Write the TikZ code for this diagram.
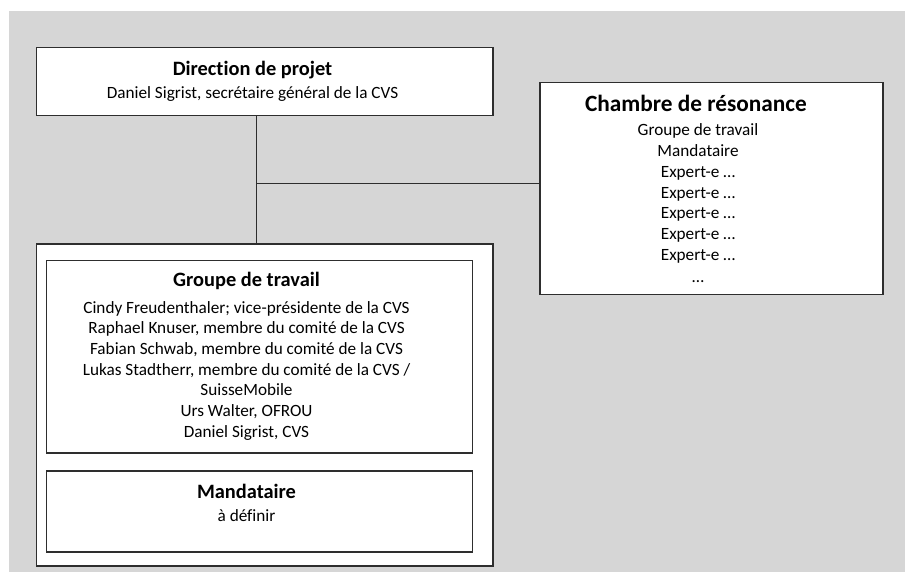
\documentclass[tikz,border=0pt]{standalone}
\usepackage{fontspec}
\setmainfont{Carlito}[Ligatures={NoCommon,NoRare,NoDiscretionary}]
\definecolor{bg}{HTML}{D6D6D6}
\definecolor{edge}{HTML}{2E2E2E}
\begin{document}
\begin{tikzpicture}[x=1pt,y=-1pt,
  box/.style={draw=edge,line width=1.3pt,fill=white,rectangle,inner sep=0pt,outer sep=0pt},
  conn/.style={draw=edge,line width=1.3pt},
  ttl/.style={anchor=base,inner sep=0pt,font=\fontsize{20.4}{24}\selectfont\bfseries},
  bigttl/.style={anchor=base,inner sep=0pt,font=\fontsize{23.3}{28}\selectfont\bfseries},
  body/.style={anchor=base,inner sep=0pt,font=\fontsize{17.2}{20.8}\selectfont}]
\useasboundingbox (0,0) rectangle (905,572);
\fill[bg] (9,11) rectangle (905,572);
% boxes
\node[box,minimum width=456.5pt,minimum height=68pt] (dir) at (264.75,81.5) {};
\node[box,minimum width=343pt,minimum height=212pt] (cham) at (711.5,188.5) {};
\node[box,minimum width=456.5pt,minimum height=322pt] (outer) at (264.75,405) {};
\node[box,minimum width=426pt,minimum height=192.5pt] (grp) at (259.7,356.75) {};
\node[box,minimum width=426pt,minimum height=81pt] (mand) at (259.7,511.5) {};
% connectors
\coordinate (j) at (256.5,183.5);
\draw[conn] (j |- dir.south) -- (j |- outer.north);
\draw[conn] (j) -- (cham.west |- j);
% Direction
\node[ttl] (dirt) at (252.5,75.5) {Direction de projet};
\node[body] (dirb) at (252.5,98.5) {Daniel Sigrist, secrétaire général de la CVS};
% Chambre
\node[bigttl] (chamt) at (696,111.5) {Chambre de résonance};
\node[body] (c1) at (698,136) {Groupe de travail};
\node[body] (c2) at (698,157) {Mandataire};
\node[body] (c3) at (698,178) {Expert-e …};
\node[body] (c4) at (698,198.5) {Expert-e …};
\node[body] (c5) at (698,219) {Expert-e …};
\node[body] (c6) at (698,240) {Expert-e …};
\node[body] (c7) at (698,261) {Expert-e …};
\node[body] (c8) at (698,282) {…};
% Groupe de travail
\node[ttl] (grpt) at (246.5,287) {Groupe de travail};
\node[body] (g1) at (246.5,313) {Cindy Freudenthaler; vice-présidente de la CVS};
\node[body] (g2) at (246.5,333.7) {Raphael Knuser, membre du comité de la CVS};
\node[body] (g3) at (246.5,354.3) {Fabian Schwab, membre du comité de la CVS};
\node[body] (g4) at (246.5,375) {Lukas Stadtherr, membre du comité de la CVS /};
\node[body] (g5) at (246.5,395.7) {SuisseMobile};
\node[body] (g6) at (246.5,416.3) {Urs Walter, OFROU};
\node[body] (g7) at (246.5,437) {Daniel Sigrist, CVS};
% Mandataire
\node[ttl] (mandt) at (246.5,498) {Mandataire};
\node[body] (mandb) at (246.5,521.5) {à définir};
\end{tikzpicture}
\end{document}
